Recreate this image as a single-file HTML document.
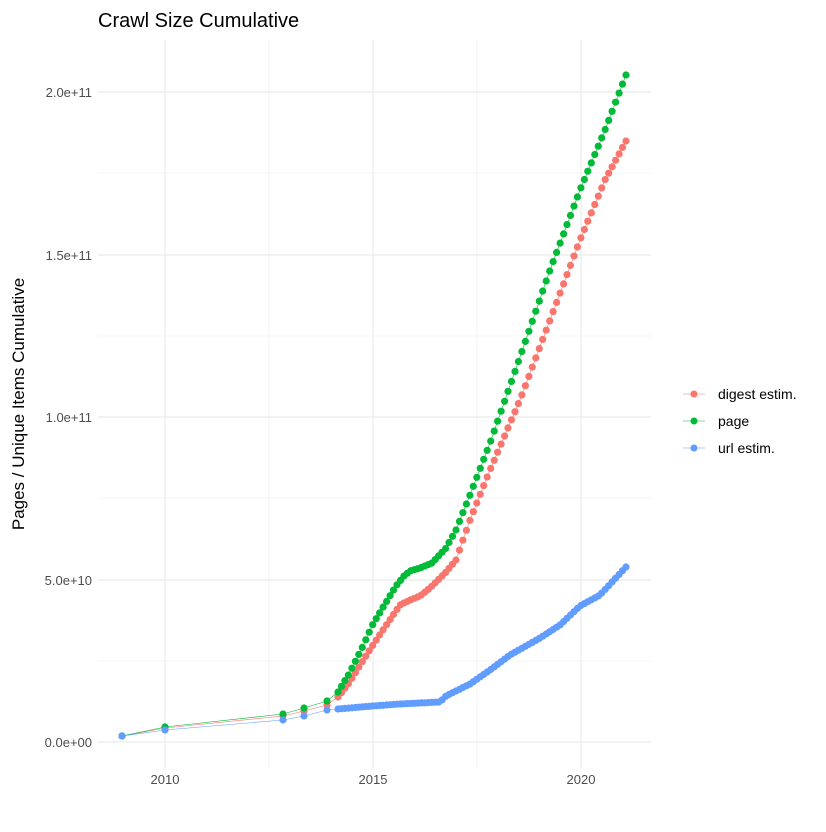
<!DOCTYPE html>
<html><head><meta charset="utf-8"><style>
body{margin:0;background:#fff;font-family:"Liberation Sans",sans-serif}
</style></head><body>
<svg id="s" width="826" height="827" xmlns="http://www.w3.org/2000/svg" font-family="Liberation Sans, sans-serif">
<rect width="826" height="827" fill="#fff"/>
<g stroke="#ebebeb" stroke-width="0.6">
<line x1="98" x2="651" y1="661" y2="661"/><line x1="98" x2="651" y1="498" y2="498"/>
<line x1="98" x2="651" y1="336" y2="336"/><line x1="98" x2="651" y1="173" y2="173"/>
<line x1="269" x2="269" y1="40" y2="768"/><line x1="477" x2="477" y1="40" y2="768"/>
</g>
<g stroke="#ebebeb" stroke-width="1.2">
<line x1="98" x2="651" y1="742" y2="742"/><line x1="98" x2="651" y1="580" y2="580"/>
<line x1="98" x2="651" y1="417" y2="417"/><line x1="98" x2="651" y1="255" y2="255"/><line x1="98" x2="651" y1="92" y2="92"/>
<line x1="165" x2="165" y1="40" y2="768"/><line x1="373" x2="373" y1="40" y2="768"/><line x1="581" x2="581" y1="40" y2="768"/>
</g>
<g font-size="13" fill="#4d4d4d" text-anchor="end">
<text x="92" y="747">0.0e+00</text><text x="92" y="585">5.0e+10</text><text x="92" y="422">1.0e+11</text><text x="92" y="260">1.5e+11</text><text x="92" y="97">2.0e+11</text>
</g>
<g font-size="13" fill="#4d4d4d" text-anchor="middle">
<text x="165" y="784">2010</text><text x="373" y="784">2015</text><text x="581" y="784">2020</text>
</g>
<text x="24" y="404" font-size="17" text-anchor="middle" transform="rotate(-90 24 404)">Pages / Unique Items Cumulative</text>
<text x="98" y="27" font-size="20">Crawl Size Cumulative</text>
<g id="data"></g>
<g font-size="14">
<line x1="683" x2="705" y1="394" y2="394" stroke="#F8766D" stroke-width="0.6"/><circle cx="694" cy="394" r="3.5" fill="#F8766D"/>
<text x="718" y="399">digest estim.</text>
<line x1="683" x2="705" y1="421" y2="421" stroke="#00BA38" stroke-width="0.6"/><circle cx="694" cy="421" r="3.5" fill="#00BA38"/>
<text x="718" y="426">page</text>
<line x1="683" x2="705" y1="448" y2="448" stroke="#619CFF" stroke-width="0.6"/><circle cx="694" cy="448" r="3.5" fill="#619CFF"/>
<text x="718" y="453">url estim.</text>
</g>
</svg>
<script>
var S=[
["#F8766D",[[122,736],[165,728],[283,716],[304,711],[327,705],[338,697],[349,683],[362,662],[373,645],[385,627],[400,605],[410,600],[420,596],[430,588],[446,572],[456,560],[470,520],[490,470],[520,400],[550,320],[580,240],[605,180],[626,141]]],
["#00BA38",[[122,736],[165,727],[283,714],[304,708],[327,701],[338,692],[349,674],[362,648],[373,624],[385,604],[396,586],[404,576],[410,571],[420,568],[432,563],[446,548],[456,530],[470,495],[490,443],[520,357],[550,270],[580,190],[605,130],[626,75]]],
["#619CFF",[[122,736],[165,730],[283,720],[304,716],[327,710],[338,709],[349,708],[373,706],[400,704],[420,703],[440,702],[446,696],[470,684],[490,670],[510,655],[540,638],[560,625],[580,606],[600,595],[626,567]]]];
var xs=[122,165,283,304,327];for(var x=338;x<=626.5;x+=3.47)xs.push(x);
function interp(k,x){for(var i=0;i<k.length-1;i++){if(x<=k[i+1][0]){var t=(x-k[i][0])/(k[i+1][0]-k[i][0]);return k[i][1]+t*(k[i+1][1]-k[i][1]);}}return k[k.length-1][1];}
var h="";
S.forEach(function(s){var pts=xs.map(function(x){return [x,interp(s[1],x)]});
h+='<polyline fill="none" stroke="'+s[0]+'" stroke-width="0.6" points="'+pts.map(function(p){return p[0].toFixed(1)+','+p[1].toFixed(1)}).join(' ')+'"/>';
pts.forEach(function(p){h+='<circle cx="'+p[0].toFixed(1)+'" cy="'+p[1].toFixed(1)+'" r="3.6" fill="'+s[0]+'"/>'});});
document.getElementById("data").innerHTML=h;
</script>
</body></html>
